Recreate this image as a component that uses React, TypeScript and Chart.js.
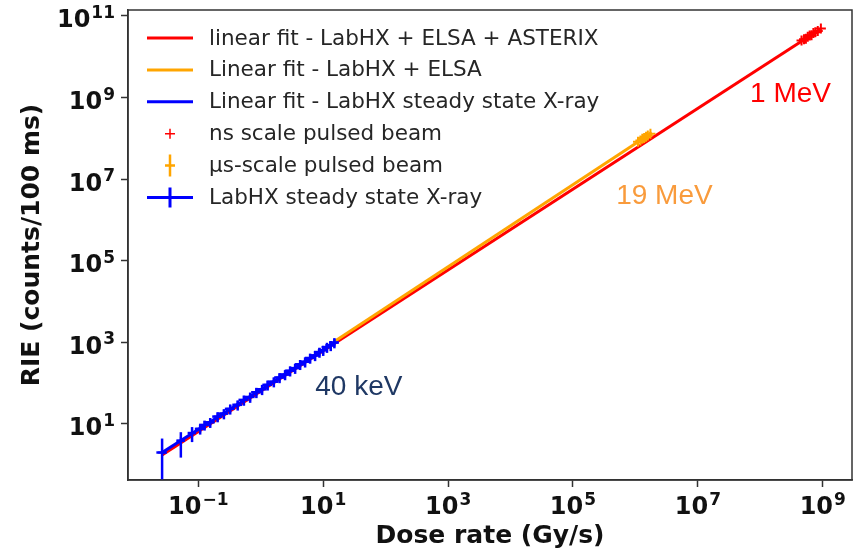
import React, { useEffect, useRef } from 'react';
import { Chart, registerables } from 'chart.js';

Chart.register(...registerables);

// ---- data ----
const blueDose = [0.0263, 0.0525, 0.0794, 0.107, 0.126, 0.155, 0.204, 0.257, 0.324, 0.427, 0.537, 0.676, 0.851, 1.05, 1.29, 1.62, 2.0, 2.45, 2.95, 3.55, 4.27, 5.13, 6.17, 7.41, 8.71, 10.0, 11.5, 13.2, 15.1];
const blueRIE = [2.0, 3.9, 6.0, 7.6, 9.5, 11.0, 15.2, 18.0, 23.5, 29.5, 39, 46, 60, 71, 91, 109, 138, 163, 202, 234, 290, 335, 415, 480, 580, 645, 765, 845, 990];
const blueDoseErr = [0.005, 0.008, 0.012, 0.019, 0.023, 0.028, 0.037, 0.046, 0.058, 0.077, 0.097, 0.12, 0.15, 0.19, 0.23, 0.29, 0.36, 0.44, 0.53, 0.64, 0.77, 0.92, 1.1, 1.3, 1.6, 1.8, 2.1, 2.4, 2.7];
const blueRIEErr = [2.4, 2.4, 2.4, 2.1, 2.6, 3.0, 4.2, 5.0, 6.5, 8.2, 11, 13, 17, 20, 25, 30, 38, 45, 56, 65, 80, 93, 115, 133, 160, 180, 212, 235, 275];

const usDose = [1.1e6, 1.2e6, 1.29e6, 1.38e6, 1.48e6, 1.58e6, 1.74e6];
const usRIE = [8.3e7, 8.9e7, 9.8e7, 1.02e8, 1.1e8, 1.17e8, 1.29e8];
const usRIEErr = [1.0e7, 1.1e7, 1.2e7, 1.25e7, 1.35e7, 1.4e7, 1.55e7];

const nsDose = [4.57e8, 5.01e8, 5.37e8, 5.75e8, 6.17e8, 6.61e8, 7.08e8, 7.59e8, 8.32e8, 9.33e8];
const nsRIE = [2.51e10, 2.69e10, 2.75e10, 3.09e10, 3.31e10, 3.39e10, 3.8e10, 3.98e10, 4.27e10, 4.9e10];

const fitAllDose = [0.0263, 9.33e8];
const fitAllRIE = [1.74, 4.84e10];
const fitElsaDose = [15.1, 1.74e6];
const fitElsaRIE = [1047, 1.29e8];
const fitXrayDose = [0.0263, 15.1];
const fitXrayRIE = [2.0, 980];

const xTickPowers = [-1, 1, 3, 5, 7, 9];
const yTickPowers = [1, 3, 5, 7, 9, 11];

const X_MIN = 0.00748;
const X_MAX = 2.94e9;
const Y_MIN = 0.424;
const Y_MAX = 1.4e11;

const annotations = [
  { text: '1 MeV', x: 6.86e7, y: 7.8e8, color: '#ff0000' },
  { text: '19 MeV', x: 4.91e5, y: 2.47e6, color: '#f99b3c' },
  { text: '40 keV', x: 7.46, y: 51.4, color: '#1f3864' },
];

// ---- helpers ----
const pts = (xs: number[], ys: number[]) => xs.map((x, i) => ({ x, y: ys[i] }));

const errorBarPlugin = {
  id: 'errorBars',
  afterDatasetDraw(chart: any, args: any) {
    const ds = chart.data.datasets[args.index];
    if (!ds.yErr && !ds.xErr) return;
    const { ctx, chartArea, scales } = chart;
    const xs = scales.x;
    const ys = scales.y;
    ctx.save();
    ctx.beginPath();
    ctx.rect(chartArea.left, chartArea.top, chartArea.right - chartArea.left, chartArea.bottom - chartArea.top);
    ctx.clip();
    ctx.strokeStyle = ds.borderColor;
    ctx.lineWidth = ds.errWidth || 2;
    ds.data.forEach((p: any, i: number) => {
      const px = xs.getPixelForValue(p.x);
      const py = ys.getPixelForValue(p.y);
      if (ds.yErr) {
        const e = ds.yErr[i];
        const lo = p.y - e;
        const pyLo = lo > 0 ? ys.getPixelForValue(lo) : chartArea.bottom + 20;
        const pyHi = ys.getPixelForValue(p.y + e);
        ctx.beginPath();
        ctx.moveTo(px, pyLo);
        ctx.lineTo(px, pyHi);
        ctx.stroke();
      }
      if (ds.xErr) {
        const e = ds.xErr[i];
        const lo = p.x - e;
        const pxLo = lo > 0 ? xs.getPixelForValue(lo) : chartArea.left - 20;
        const pxHi = xs.getPixelForValue(p.x + e);
        ctx.beginPath();
        ctx.moveTo(pxLo, py);
        ctx.lineTo(pxHi, py);
        ctx.stroke();
      }
    });
    ctx.restore();
  },
};

const framePlugin = {
  id: 'frame',
  afterDraw(chart: any) {
    const { ctx, chartArea } = chart;
    ctx.save();
    ctx.strokeStyle = '#333333';
    ctx.lineWidth = 1.5;
    ctx.strokeRect(chartArea.left, chartArea.top, chartArea.right - chartArea.left, chartArea.bottom - chartArea.top);
    ctx.restore();
  },
};

const drawPow = (ctx: any, p: number, anchorX: number, baseline: number, align: 'center' | 'right') => {
  const base = '10';
  const exp = String(p).replace('-', '\u2212');
  ctx.font = 'bold 24px "DejaVu Sans"';
  const wb = ctx.measureText(base).width;
  ctx.font = 'bold 17px "DejaVu Sans"';
  const we = ctx.measureText(exp).width;
  const total = wb + 1 + we;
  const left = align === 'center' ? anchorX - total / 2 : anchorX - total;
  ctx.textAlign = 'left';
  ctx.textBaseline = 'alphabetic';
  ctx.font = 'bold 24px "DejaVu Sans"';
  ctx.fillText(base, left, baseline);
  ctx.font = 'bold 17px "DejaVu Sans"';
  ctx.fillText(exp, left + wb + 1, baseline - 9.5);
};

const tickLabelPlugin = {
  id: 'powTickLabels',
  afterDraw(chart: any) {
    const { ctx, scales, chartArea } = chart;
    ctx.save();
    ctx.fillStyle = '#111111';
    xTickPowers.forEach((p) => {
      drawPow(ctx, p, scales.x.getPixelForValue(Math.pow(10, p)), chartArea.bottom + 34, 'center');
    });
    yTickPowers.forEach((p) => {
      drawPow(ctx, p, chartArea.left - 13, scales.y.getPixelForValue(Math.pow(10, p)) + 11.5, 'right');
    });
    ctx.restore();
  },
};

const legendPlugin = {
  id: 'insideLegend',
  afterDraw(chart: any) {
    const { ctx, chartArea } = chart;
    const x0 = chartArea.left + 19;
    const x1 = chartArea.left + 65;
    const xc = (x0 + x1) / 2;
    const xt = chartArea.left + 81;
    ctx.save();
    ctx.font = '21.5px "DejaVu Sans"';
    ctx.textBaseline = 'middle';
    ctx.textAlign = 'left';
    chart.data.datasets.forEach((ds: any, i: number) => {
      const y = chartArea.top + 28 + i * 31.9;
      ctx.strokeStyle = ds.borderColor;
      ctx.lineCap = 'butt';
      if (ds.legendKind === 'line') {
        ctx.lineWidth = 3;
        ctx.beginPath();
        ctx.moveTo(x0, y);
        ctx.lineTo(x1, y);
        ctx.stroke();
      } else if (ds.legendKind === 'plus') {
        ctx.lineWidth = 1.5;
        ctx.beginPath();
        ctx.moveTo(xc - 5, y);
        ctx.lineTo(xc + 5, y);
        ctx.moveTo(xc, y - 5);
        ctx.lineTo(xc, y + 5);
        ctx.stroke();
      } else if (ds.legendKind === 'vbar') {
        ctx.lineWidth = 2.5;
        ctx.beginPath();
        ctx.moveTo(xc - 5, y);
        ctx.lineTo(xc + 5, y);
        ctx.moveTo(xc, y - 11);
        ctx.lineTo(xc, y + 11);
        ctx.stroke();
      } else if (ds.legendKind === 'bigplus') {
        ctx.lineWidth = 3;
        ctx.beginPath();
        ctx.moveTo(x0, y);
        ctx.lineTo(x1, y);
        ctx.moveTo(xc, y - 10);
        ctx.lineTo(xc, y + 10);
        ctx.stroke();
      }
      ctx.fillStyle = '#262626';
      ctx.fillText(ds.label, xt, y + 1);
    });
    ctx.restore();
  },
};

const annotationPlugin = {
  id: 'textNotes',
  afterDraw(chart: any) {
    const { ctx, scales } = chart;
    ctx.save();
    ctx.font = '28px "Liberation Sans"';
    ctx.textBaseline = 'alphabetic';
    ctx.textAlign = 'left';
    annotations.forEach((a) => {
      ctx.fillStyle = a.color;
      ctx.fillText(a.text, scales.x.getPixelForValue(a.x), scales.y.getPixelForValue(a.y));
    });
    ctx.restore();
  },
};

const titleFont = { family: '"DejaVu Sans"', size: 25, weight: 'bold' as const };
const gridOpts = { display: true, drawOnChartArea: false, drawTicks: true, tickLength: 7, tickWidth: 1.5, tickColor: '#333333' };
const borderOpts = { display: true, color: '#333333', width: 1.5 };

export default function App() {
  const ref = useRef<HTMLCanvasElement | null>(null);
  useEffect(() => {
    if (!ref.current) return;
    const chart = new Chart(ref.current, {
      type: 'scatter',
      data: {
        datasets: [
          {
            label: 'linear fit - LabHX + ELSA + ASTERIX',
            data: pts(fitAllDose, fitAllRIE),
            showLine: true, borderColor: '#ff0000', backgroundColor: '#ff0000', borderWidth: 3, pointRadius: 0,
            order: 6, legendKind: 'line',
          } as any,
          {
            label: 'Linear fit - LabHX + ELSA',
            data: pts(fitElsaDose, fitElsaRIE),
            showLine: true, borderColor: '#ffa500', backgroundColor: '#ffa500', borderWidth: 3, pointRadius: 0,
            order: 5, legendKind: 'line',
          } as any,
          {
            label: 'Linear fit - LabHX steady state X-ray',
            data: pts(fitXrayDose, fitXrayRIE),
            showLine: true, borderColor: '#0000ff', backgroundColor: '#0000ff', borderWidth: 3, pointRadius: 0,
            order: 4, legendKind: 'line',
          } as any,
          {
            label: 'ns scale pulsed beam',
            data: pts(nsDose, nsRIE),
            borderColor: '#ff0000', backgroundColor: '#ff0000', pointStyle: 'cross', pointRadius: 5, borderWidth: 2,
            order: 3, legendKind: 'plus',
          } as any,
          {
            label: 'µs-scale pulsed beam',
            data: pts(usDose, usRIE),
            borderColor: '#ffa500', backgroundColor: '#ffa500', pointStyle: 'cross', pointRadius: 5, borderWidth: 2,
            yErr: usRIEErr, errWidth: 2.5,
            order: 2, legendKind: 'vbar',
          } as any,
          {
            label: 'LabHX steady state X-ray',
            data: pts(blueDose, blueRIE),
            borderColor: '#0000ff', backgroundColor: '#0000ff', pointStyle: 'cross', pointRadius: 4, borderWidth: 2,
            yErr: blueRIEErr, xErr: blueDoseErr, errWidth: 2.5,
            order: 1, legendKind: 'bigplus',
          } as any,
        ],
      },
      options: {
        animation: false,
        responsive: false,
        events: [],
        layout: { padding: { left: 0, top: 10, right: 9, bottom: 0 } },
        plugins: { legend: { display: false }, tooltip: { enabled: false } },
        scales: {
          x: {
            type: 'logarithmic',
            min: X_MIN,
            max: X_MAX,
            bounds: 'data',
            afterBuildTicks: (s: any) => { s.ticks = xTickPowers.map((p) => ({ value: Math.pow(10, p) })); },
            afterFit: (s: any) => { s.height = 75; },
            ticks: { display: false, autoSkip: false, maxRotation: 0, minRotation: 0 },
            grid: gridOpts,
            border: borderOpts,
            title: { display: true, text: 'Dose rate (Gy/s)', font: titleFont, color: '#111111', padding: { top: 0, bottom: 4 } },
          },
          y: {
            type: 'logarithmic',
            min: Y_MIN,
            max: Y_MAX,
            bounds: 'data',
            afterBuildTicks: (s: any) => { s.ticks = yTickPowers.map((p) => ({ value: Math.pow(10, p) })); },
            afterFit: (s: any) => { s.width = 128; },
            ticks: { display: false, autoSkip: false },
            grid: gridOpts,
            border: borderOpts,
            title: { display: true, text: 'RIE (counts/100 ms)', font: titleFont, color: '#111111', padding: { top: 17, bottom: 0 } },
          },
        },
      } as any,
      plugins: [errorBarPlugin, framePlugin, tickLabelPlugin, legendPlugin, annotationPlugin],
    });
    return () => chart.destroy();
  }, []);
  return (
    <div style={{ position: 'fixed', left: 0, top: 0, width: 861, height: 555, background: '#ffffff' }}>
      <canvas ref={ref} width={861} height={555} style={{ display: 'block' }} />
    </div>
  );
}
